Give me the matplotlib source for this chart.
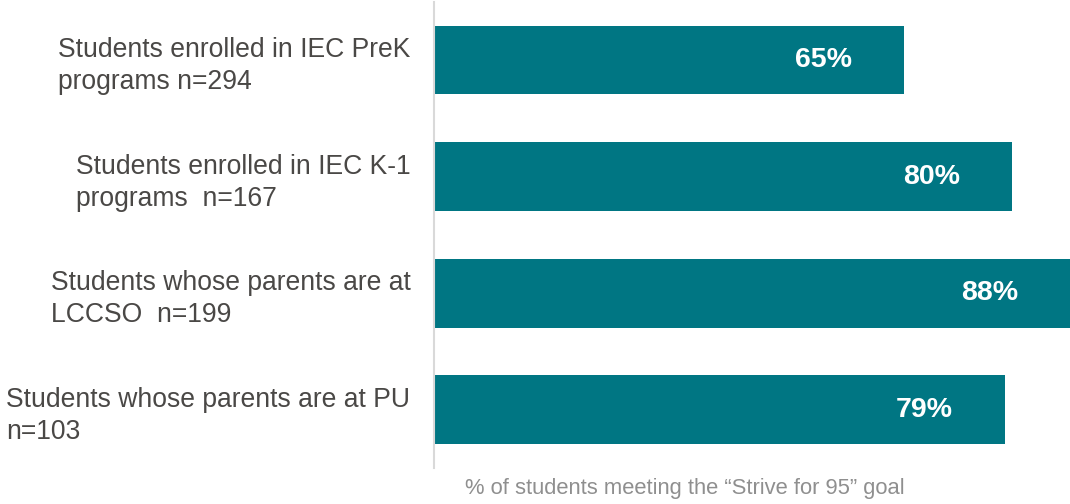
import matplotlib.pyplot as plt

plt.rcParams['font.family'] = ['Liberation Sans', 'DejaVu Sans']

# groups and share of students meeting the goal
groups = [
    "Students enrolled in IEC PreK\nprograms n=294",
    "Students enrolled in IEC K-1\nprograms  n=167",
    "Students whose parents are at\nLCCSO  n=199",
    "Students whose parents are at PU\nn=103",
]
pct = [65, 80, 88, 79]

bar_color = "#007683"
text_color = "#4a4846"

fig = plt.figure(figsize=(10.7, 5.04), dpi=100)
ax = fig.add_axes([0.4056, 0.0714, 0.5944, 0.925])

y = range(len(groups))
ax.barh(y, pct, height=0.59, color=bar_color)

for yi, v in zip(y, pct):
    ax.text(v - 7.2, yi, f"{v}%", ha="right", va="center",
            color="white", fontsize=20.5, fontweight="bold")

ax.set_xlim(0, 88)
ax.set_ylim(3.5, -0.5)
ax.set_yticks(list(y))
ax.set_yticklabels(groups, fontsize=19.1, color=text_color,
                   multialignment="left", linespacing=1.3)
ax.tick_params(axis="y", length=0, pad=17)
ax.set_xticks([])

for side in ["top", "right", "bottom"]:
    ax.spines[side].set_visible(False)
ax.spines["left"].set_color("#d9d9d9")
ax.spines["left"].set_linewidth(1.5)

fig.text(0.640, 0.03, "% of students meeting the \u201cStrive for 95\u201d goal",
         ha="center", va="center", fontsize=15.8, color="#8f8f8f")

fig.savefig("out.png", dpi=100)
